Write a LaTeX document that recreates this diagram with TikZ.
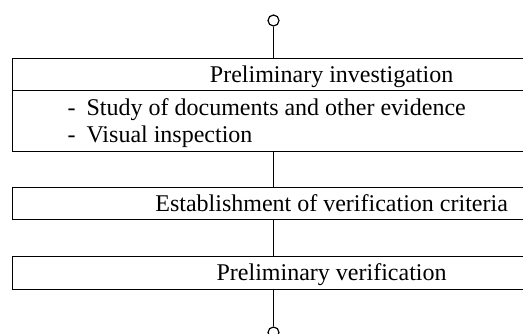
\documentclass[tikz,border=0pt]{standalone}
\usepackage{fontspec}
\setmainfont{Liberation Serif}

\begin{document}
\begin{tikzpicture}[x=0.5pt,y=-0.5pt,font=\fontsize{12}{13.5}\selectfont,line width=0.6pt]
            \useasboundingbox (0,0) rectangle (523,333);
            \clip (0,0) rectangle (523,333);
            \begin{scope}[every node/.style={draw=black,minimum width=319pt,inner sep=0pt,text height=9.5pt,text depth=2pt,anchor=north west}]
                \node[minimum height=16pt] (inv) at (12,58) {Preliminary investigation};
                \node[minimum height=30.5pt] (docs) at (12,90) {};
                \node[minimum height=16pt] (crit) at (12,187) {Establishment of verification criteria};
                \node[minimum height=16.5pt] (ver) at (12,256) {Preliminary verification};
            \end{scope}
            \node[anchor=west,align=left,inner sep=0pt] (items) at (67,123.5)
                {\makebox[9.5pt][l]{-}Study of documents and other evidence\\
                 \makebox[9.5pt][l]{-}Visual inspection};
            \begin{scope}[every node/.style={circle,draw=black,minimum size=5.5pt,inner sep=0pt}]
                \node (start) at (273.5,20.5) {};
                \node (stop) at (273.5,332.5) {};
            \end{scope}
            \draw (start) edge (start |- inv.north);
            \draw (start |- docs.south) edge (start |- crit.north);
            \draw (start |- crit.south) edge (start |- ver.north);
            \draw (start |- ver.south) edge (stop);
        \end{tikzpicture}
\end{document}
